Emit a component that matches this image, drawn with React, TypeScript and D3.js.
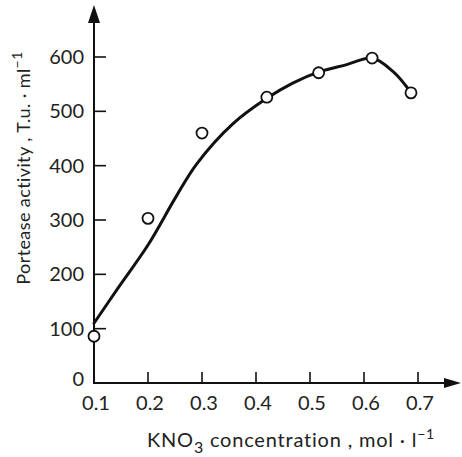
import React from "react";
import * as d3 from "d3";

const xTicks = [0.1, 0.2, 0.3, 0.4, 0.5, 0.6, 0.7];
const xTickLabels = ["0.1", "0.2", "0.3", "0.4", "0.5", "0.6", "0.7"];
const yTicks = [0, 100, 200, 300, 400, 500, 600];

// measured points (open circles)
const pointX = [0.1, 0.2, 0.3, 0.42, 0.516, 0.615, 0.687];
const pointY = [86, 303, 460, 526, 571, 598, 534];

// fitted curve
const curveX = [0.1, 0.146, 0.2, 0.252, 0.29, 0.357, 0.42, 0.468, 0.518, 0.568, 0.615, 0.654, 0.676, 0.683];
const curveY = [110, 177, 254, 343, 403, 477, 524, 552, 573, 586, 598, 573, 549, 540];

export default function App() {
  const W = 462, H = 457;
  const x = d3.scaleLinear().domain([0.1, 0.7]).range([94, 418]);
  const y = d3.scaleLinear().domain([0, 600]).range([383, 57]);
  const line = d3
    .line<number>()
    .x((_, i) => x(curveX[i]))
    .y((d) => y(d))
    .curve(d3.curveCatmullRom.alpha(0.5));
  const ink = "#111";
  const font = "Lato, 'DejaVu Sans', sans-serif";
  const x0 = x(0.1), y0 = y(0);
  return (
    <svg width={W} height={H} style={{ position: "absolute", left: 0, top: 0, background: "#fff" }}>
      {/* axes */}
      <line x1={x0} y1={y0} x2={x0} y2={22} stroke={ink} strokeWidth={2} />
      <polygon points={`${x0},5 ${x0 - 6},23 ${x0 + 6},23`} fill={ink} />
      <line x1={x0 - 1} y1={y0} x2={446} y2={y0} stroke={ink} strokeWidth={2} />
      <polygon points={`461,${y0} 444,${y0 - 5} 444,${y0 + 5}`} fill={ink} />
      {yTicks.map((t) => (
        <g key={"y" + t}>
          {t > 0 && <line x1={x0} x2={x0 + 12} y1={y(t)} y2={y(t)} stroke={ink} strokeWidth={1.6} />}
          <text x={x0 - 10} y={t === 0 ? y(t) - 4 : y(t)} dy="0.35em" textAnchor="end" fontFamily={font} fontSize={20} fill="#222">
            {t}
          </text>
        </g>
      ))}
      {xTicks.map((t, i) => (
        <g key={"x" + t}>
          {i > 0 && <line x1={x(t)} x2={x(t)} y1={y0} y2={y0 - 11} stroke={ink} strokeWidth={1.6} />}
          <text x={x(t) + 2} y={410} textAnchor="middle" fontFamily={font} fontSize={20} fill="#222">
            {xTickLabels[i]}
          </text>
        </g>
      ))}
      {/* curve */}
      <path d={line(curveY) || ""} fill="none" stroke={ink} strokeWidth={3} strokeLinecap="round" />
      {/* points */}
      {pointX.map((px, i) => (
        <circle key={"p" + i} cx={x(px)} cy={y(pointY[i])} r={5.5} fill="#fff" stroke={ink} strokeWidth={1.8} />
      ))}
      {/* titles */}
      <text x={291} y={447} textAnchor="middle" fontFamily={font} fontSize={20} letterSpacing={0.8} fill="#222">
        KNO<tspan dy={6} fontSize={16}>3</tspan>
        <tspan dy={-6}> concentration , mol · l</tspan>
        <tspan dy={-8} fontSize={14}>−1</tspan>
      </text>
      <text
        transform="translate(30,168) rotate(-90)"
        textAnchor="middle"
        fontFamily={font}
        fontSize={18}
        letterSpacing={0.4}
        fill="#222"
      >
        Portease activity , T.u. · ml<tspan dy={-8} fontSize={14}>−1</tspan>
      </text>
    </svg>
  );
}
